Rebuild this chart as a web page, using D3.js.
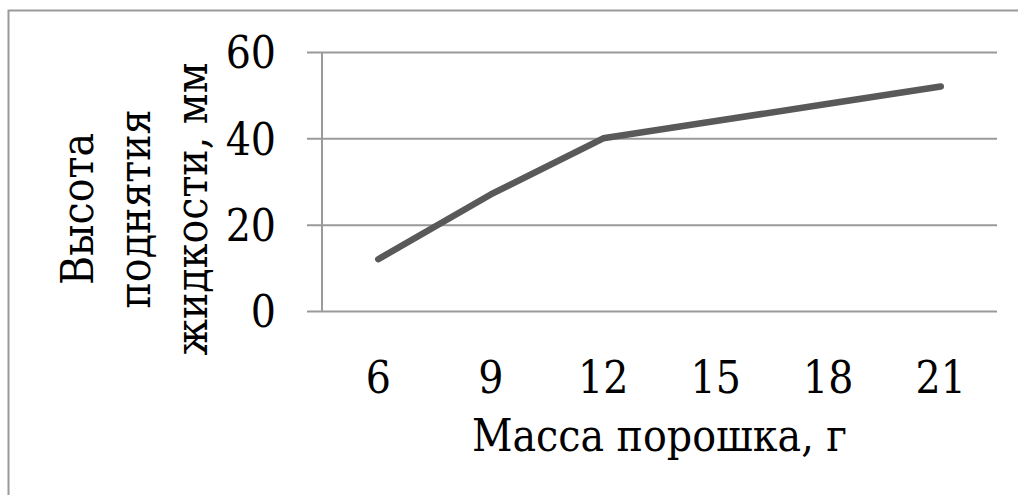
<!DOCTYPE html>
<html>
<head>
<meta charset="utf-8">
<script src="https://cdn.jsdelivr.net/npm/d3@7"></script>
<style>
  html, body { margin: 0; padding: 0; background: #fff; }
  svg { display: block; }
  text { font-family: "DejaVu Serif Condensed", "DejaVu Serif", serif; font-stretch: condensed; fill: #000; }
</style>
</head>
<body>
<svg id="chart" width="1018" height="495"></svg>
<script>
// Масса порошка (г) и высота поднятия жидкости (мм)
const categories = ["6", "9", "12", "15", "18", "21"];
const heights = [12, 27, 40, 44, 48, 52];
const yTicks = [0, 20, 40, 60];
const xTitle = "Масса порошка, г";
const yTitleLines = ["Высота", "поднятия", "жидкости, мм"];

const svg = d3.select("#chart");
const W = 1018, H = 495;
const FS = 44;
const plot = { left: 322, right: 997, top: 52, bottom: 311 };

// outer frame (top and left edges)
svg.append("path")
  .attr("d", `M8.5,${H} V10.5 H${W}`)
  .attr("fill", "none")
  .attr("stroke", "#9a9a9a")
  .attr("stroke-width", 2);

const x = d3.scaleBand().domain(categories).range([plot.left, plot.right]);
const y = d3.scaleLinear().domain([0, 60]).range([plot.bottom, plot.top]);

// horizontal gridlines with ticks extending left of the axis
const yAxis = d3.axisLeft(y).tickValues(yTicks).tickSize(-(plot.right - plot.left)).tickPadding(46).tickFormat(d3.format("d"));
const gy = svg.append("g").attr("transform", `translate(${plot.left},0)`).call(yAxis);
gy.select(".domain").remove();
gy.selectAll(".tick line")
  .attr("x1", -15)
  .attr("stroke", "#9a9a9a")
  .attr("stroke-width", 2);
gy.selectAll(".tick text")
  .attr("font-size", FS)
  .attr("font-family", null)
  .attr("dy", "0.36em");

// vertical axis line
svg.append("line")
  .attr("x1", plot.left).attr("x2", plot.left)
  .attr("y1", y(60)).attr("y2", y(0))
  .attr("stroke", "#9a9a9a")
  .attr("stroke-width", 2);

// category labels
const xAxis = d3.axisBottom(x).tickSize(0).tickPadding(0);
const gx = svg.append("g").attr("transform", `translate(0,${plot.bottom})`).call(xAxis);
gx.select(".domain").remove();
gx.selectAll(".tick text")
  .attr("font-size", FS)
  .attr("font-family", null)
  .attr("dy", null)
  .attr("y", 82);

// data line
const line = d3.line()
  .x((d, i) => x(categories[i]) + x.bandwidth() / 2)
  .y(d => y(d));
svg.append("path")
  .datum(heights)
  .attr("d", line)
  .attr("fill", "none")
  .attr("stroke", "#595959")
  .attr("stroke-width", 6.5)
  .attr("stroke-linecap", "round")
  .attr("stroke-linejoin", "round");

// axis titles
svg.append("text")
  .attr("x", (plot.left + plot.right) / 2)
  .attr("y", 451)
  .attr("text-anchor", "middle")
  .attr("font-size", FS)
  .text(xTitle);

const yt = svg.append("text")
  .attr("transform", "translate(0,209) rotate(-90)")
  .attr("text-anchor", "middle")
  .attr("font-size", FS);
yt.selectAll("tspan")
  .data(yTitleLines)
  .join("tspan")
  .attr("x", 0)
  .attr("y", (d, i) => 93 + i * 57)
  .text(d => d);
</script>
</body>
</html>
